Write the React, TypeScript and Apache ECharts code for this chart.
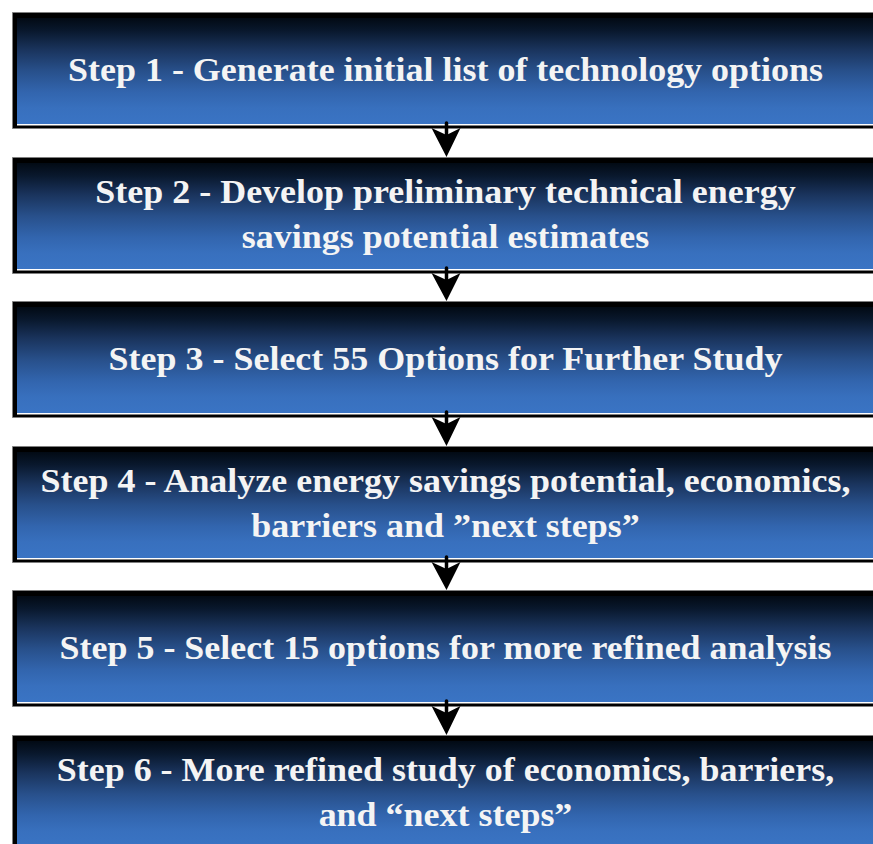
import React, { useEffect, useRef } from "react";
import * as echarts from "echarts";

// Flowchart content
const stepLines: string[][] = [
  ["Step 1 - Generate initial list of technology options"],
  ["Step 2 - Develop preliminary technical energy", "savings potential estimates"],
  ["Step 3 - Select 55 Options for Further Study"],
  ["Step 4 - Analyze energy savings potential, economics,", "barriers and \u201dnext steps\u201d"],
  ["Step 5 - Select 15 options for more refined analysis"],
  ["Step 6 - More refined study of economics, barriers,", "and \u201cnext steps\u201d"],
];

const W = 873;
const H = 844;
const BOX_X = 12;
const BOX_W = 880;
const BOX_H = 117;
const FIRST_TOP = 12;
const STEP_GAP = 144.6;
const CX = 446.5;
const TEXT_CX = 445.5;

export default function App() {
  const ref = useRef<HTMLDivElement>(null);
  useEffect(() => {
    if (!ref.current) return;
    const chart = echarts.init(ref.current, null, { renderer: "svg", width: W, height: H });
    const els: any[] = [];
    const tops = stepLines.map((_, i) => Math.round(FIRST_TOP + i * STEP_GAP));
    const grad = () =>
      new echarts.graphic.LinearGradient(0, 0, 0, 1, [
        { offset: 0, color: "#020a14" },
        { offset: 0.12, color: "#09182d" },
        { offset: 0.3, color: "#1a345d" },
        { offset: 0.5, color: "#28508b" },
        { offset: 0.7, color: "#3265ae" },
        { offset: 0.85, color: "#3870be" },
        { offset: 1, color: "#3a74c4" },
      ]);
    tops.forEach((top, i) => {
      els.push({
        type: "rect",
        shape: { x: BOX_X + 0.5, y: top + 0.5, width: BOX_W, height: BOX_H - 1 },
        style: { fill: "#000000", stroke: "#7f7f7f", lineWidth: 1 },
        z: 1,
      });
      els.push({
        type: "rect",
        shape: { x: BOX_X + 5, y: top + 6, width: BOX_W, height: 106 },
        style: { fill: grad() },
        z: 2,
      });
      els.push({
        type: "rect",
        shape: { x: BOX_X + 5, y: top + 112, width: BOX_W, height: 1.4 },
        style: { fill: "#ffffff" },
        z: 3,
      });
      const lines = stepLines[i];
      const offs = lines.length === 1 ? [57.5] : [34.5, 79.5];
      lines.forEach((ln, j) => {
        els.push({
          type: "text",
          x: TEXT_CX,
          y: top + offs[j],
          scaleX: 1.09,
          z: 5,
          style: {
            text: ln,
            x: 0,
            y: 0,
            textAlign: "center",
            textVerticalAlign: "middle",
            fill: "#f4f4f4",
            fontFamily: "Liberation Serif",
            fontWeight: "bold",
            fontSize: 33,
          },
        });
      });
    });
    // arrows between boxes
    for (let i = 0; i < tops.length - 1; i++) {
      const bottom = tops[i] + BOX_H;
      const next = tops[i + 1];
      els.push({
        type: "line",
        shape: { x1: CX, y1: bottom - 6, x2: CX, y2: next - 12 },
        style: { stroke: "#000000", lineWidth: 3.5, lineCap: "round" },
        z: 6,
      });
      els.push({
        type: "polygon",
        shape: {
          points: [
            [CX - 15, bottom - 1],
            [CX, bottom + 6],
            [CX + 14, bottom - 1],
            [CX, next],
          ],
        },
        style: { fill: "#000000" },
        z: 6,
      });
    }
    chart.setOption({
      animation: false,
      backgroundColor: "#ffffff",
      graphic: { elements: els },
    });
    return () => chart.dispose();
  }, []);
  return (
    <div
      ref={ref}
      style={{ position: "fixed", left: 0, top: 0, width: W, height: H, overflow: "hidden" }}
    />
  );
}
